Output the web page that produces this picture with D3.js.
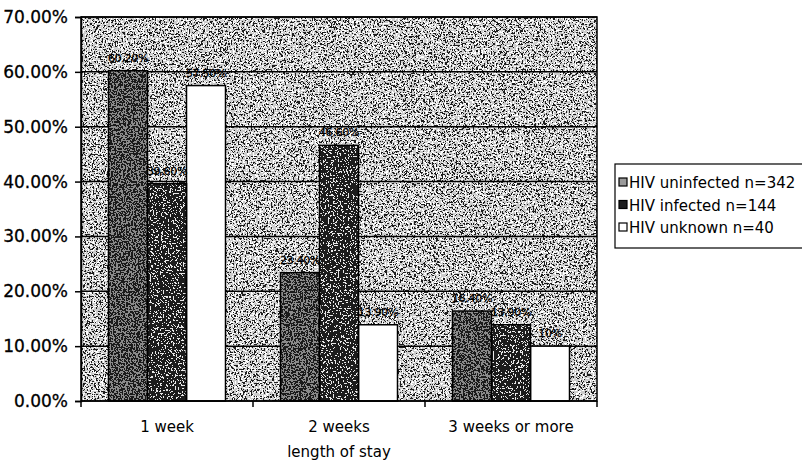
<!DOCTYPE html>
<html>
<head>
<meta charset="utf-8">
<script src="https://cdn.jsdelivr.net/npm/d3@7"></script>
<style>
  html, body { margin: 0; padding: 0; background: #ffffff; }
  svg { display: block; font-family: "DejaVu Sans", Verdana, sans-serif; }
</style>
</head>
<body>
<svg id="chart" width="802" height="467"></svg>
<script>
// Length of stay by HIV status (percent of each group)
const categories = ["1 week", "2 weeks", "3 weeks or more"];
const seriesNames = ["HIV uninfected n=342", "HIV infected n=144", "HIV unknown n=40"];
const uninfected = [60.2, 23.4, 16.4];
const infected = [39.6, 46.6, 13.9];
const unknown = [57.5, 13.9, 10];
const yTicks = [0, 10, 20, 30, 40, 50, 60, 70];
const xTitle = "length of stay";

const seriesValues = [uninfected, infected, unknown];
const seriesFill = ["#8a8a8a", "#1c1c1c", "#ffffff"];
const seriesGrain = [true, true, false];

const svg = d3.select("#chart");
const plot = { left: 81, right: 597, top: 17, bottom: 401 };

const x0 = d3.scaleBand().domain(categories).range([plot.left, plot.right]).paddingInner(0).paddingOuter(0);
const groupW = 117;
const x1 = d3.scaleBand().domain(d3.range(seriesNames.length)).range([0, groupW]).padding(0);
const y = d3.scaleLinear().domain([0, 70]).range([plot.bottom, plot.top]);

// speckle filters giving the printed, dithered look
const defs = svg.append("defs");
function speckle(id, seed, freq, cut, color) {
  const f = defs.append("filter").attr("id", id)
    .attr("x", 0).attr("y", 0).attr("width", 1).attr("height", 1)
    .attr("color-interpolation-filters", "sRGB");
  f.append("feTurbulence").attr("type", "fractalNoise")
    .attr("baseFrequency", freq).attr("numOctaves", 2).attr("seed", seed).attr("result", "n");
  const c = color === "white" ? 1 : 0;
  f.append("feColorMatrix").attr("in", "n").attr("type", "matrix")
    .attr("values", `0 0 0 0 ${c}  0 0 0 0 ${c}  0 0 0 0 ${c}  1 0 0 0 0`);
  const ct = f.append("feComponentTransfer");
  const steps = 40;
  const table = d3.range(steps).map(i => (i / steps >= cut ? 1 : 0));
  ct.append("feFuncA").attr("type", "discrete").attr("tableValues", table.join(" "));
}
speckle("grainDark", 7, 0.55, 0.55, "black");
speckle("grainLight", 19, 0.6, 0.56, "white");
speckle("barLight", 31, 0.6, 0.6, "white");
speckle("barDark", 43, 0.6, 0.5, "black");

// plot background
const bg = svg.append("g");
["#cccccc", null, null].forEach((fill, i) => {
  bg.append("rect")
    .attr("x", plot.left).attr("y", plot.top)
    .attr("width", plot.right - plot.left).attr("height", plot.bottom - plot.top)
    .attr("fill", i === 0 ? fill : (i === 1 ? "#000" : "#fff"))
    .attr("filter", i === 0 ? null : (i === 1 ? "url(#grainDark)" : "url(#grainLight)"))
    .attr("opacity", i === 1 ? 0.85 : 1);
});

// gridlines
svg.append("g").selectAll("line")
  .data(yTicks.filter(d => d > 0))
  .join("line")
  .attr("x1", plot.left).attr("x2", plot.right)
  .attr("y1", d => y(d)).attr("y2", d => y(d))
  .attr("stroke", "#000").attr("stroke-width", 1.5);

// bars
const barData = [];
categories.forEach((cat, ci) => {
  seriesValues.forEach((vals, si) => {
    barData.push({ cat, si, v: vals[ci] });
  });
});
const offset = (x0.bandwidth() - groupW) / 2;
const barX = d => x0(d.cat) + offset + x1(d.si);
const bars = svg.append("g");
bars.selectAll("rect.base")
  .data(barData)
  .join("rect")
  .attr("class", "base")
  .attr("x", barX)
  .attr("y", d => y(d.v))
  .attr("width", x1.bandwidth())
  .attr("height", d => y(0) - y(d.v))
  .attr("fill", d => seriesFill[d.si]);
bars.selectAll("rect.grainA")
  .data(barData.filter(d => seriesGrain[d.si]))
  .join("rect")
  .attr("class", "grainA")
  .attr("x", barX)
  .attr("y", d => y(d.v))
  .attr("width", x1.bandwidth())
  .attr("height", d => y(0) - y(d.v))
  .attr("fill", d => d.si === 0 ? "#000" : "#fff")
  .attr("filter", d => d.si === 0 ? "url(#barDark)" : "url(#barLight)")
  .attr("opacity", d => d.si === 0 ? 0.8 : 0.9);
bars.selectAll("rect.outline")
  .data(barData)
  .join("rect")
  .attr("class", "outline")
  .attr("x", barX)
  .attr("y", d => y(d.v))
  .attr("width", x1.bandwidth())
  .attr("height", d => y(0) - y(d.v))
  .attr("fill", "none")
  .attr("stroke", "#000").attr("stroke-width", 1.5);

// value labels
const fmtVal = v => Number.isInteger(v) ? `${v}%` : `${v.toFixed(2)}%`;
svg.append("g").selectAll("text")
  .data(barData)
  .join("text")
  .attr("x", d => barX(d) + x1.bandwidth() / 2)
  .attr("y", d => y(d.v) - 9)
  .attr("text-anchor", "middle")
  .attr("font-size", 11)
  .attr("letter-spacing", -0.3)
  .attr("fill", "#000")
  .attr("stroke", "#000").attr("stroke-width", 0.3)
  .text(d => fmtVal(d.v));

// plot frame
svg.append("rect")
  .attr("x", plot.left).attr("y", plot.top)
  .attr("width", plot.right - plot.left).attr("height", plot.bottom - plot.top)
  .attr("fill", "none").attr("stroke", "#000").attr("stroke-width", 1.5);

// y axis
const yAxis = d3.axisLeft(y).tickValues(yTicks).tickSize(6).tickPadding(7)
  .tickFormat(d => `${d.toFixed(2)}%`);
const gy = svg.append("g").attr("transform", `translate(${plot.left},0)`).call(yAxis);
gy.select(".domain").attr("stroke", "#000").attr("stroke-width", 1.5);
gy.selectAll(".tick line").attr("stroke", "#000").attr("stroke-width", 1.5);
gy.selectAll(".tick text").attr("font-size", 17).attr("font-family", "DejaVu Sans")
  .attr("fill", "#000").attr("stroke", "#000").attr("stroke-width", 0.3);

// x axis: ticks on category boundaries
const gx = svg.append("g").attr("transform", `translate(0,${plot.bottom})`);
gx.append("line").attr("x1", plot.left).attr("x2", plot.right)
  .attr("stroke", "#000").attr("stroke-width", 1.5);
const bounds = categories.map(c => x0(c)).concat([x0(categories[categories.length - 1]) + x0.bandwidth()]);
gx.selectAll("line.tick").data(bounds).join("line").attr("class", "tick")
  .attr("x1", d => d).attr("x2", d => d).attr("y1", 0).attr("y2", 6)
  .attr("stroke", "#000").attr("stroke-width", 1.5);
gx.selectAll("text").data(categories).join("text")
  .attr("x", d => x0(d) + x0.bandwidth() / 2)
  .attr("y", 31)
  .attr("text-anchor", "middle")
  .attr("font-size", 15)
  .attr("fill", "#000")
  .text(d => d);

svg.append("text")
  .attr("x", (plot.left + plot.right) / 2)
  .attr("y", 457)
  .attr("text-anchor", "middle")
  .attr("font-size", 15)
  .attr("fill", "#000")
  .text(xTitle);

// legend
const legend = svg.append("g");
legend.append("rect")
  .attr("x", 615).attr("y", 164).attr("width", 195).attr("height", 84)
  .attr("fill", "#fff").attr("stroke", "#000").attr("stroke-width", 1.2);
const rowY = d3.scalePoint().domain(d3.range(seriesNames.length)).range([183, 228]);
const items = legend.selectAll("g.item").data(seriesNames).join("g").attr("class", "item");
items.append("rect")
  .attr("x", 619).attr("y", (d, i) => rowY(i) - 5)
  .attr("width", 8).attr("height", 8)
  .attr("fill", (d, i) => i === 0 ? "#9a9a9a" : seriesFill[i])
  .attr("stroke", "#000").attr("stroke-width", 1.2);
items.append("text")
  .attr("x", 629).attr("y", (d, i) => rowY(i) + 5)
  .attr("font-size", 15)
  .attr("fill", "#000")
  .text(d => d);
</script>
</body>
</html>
